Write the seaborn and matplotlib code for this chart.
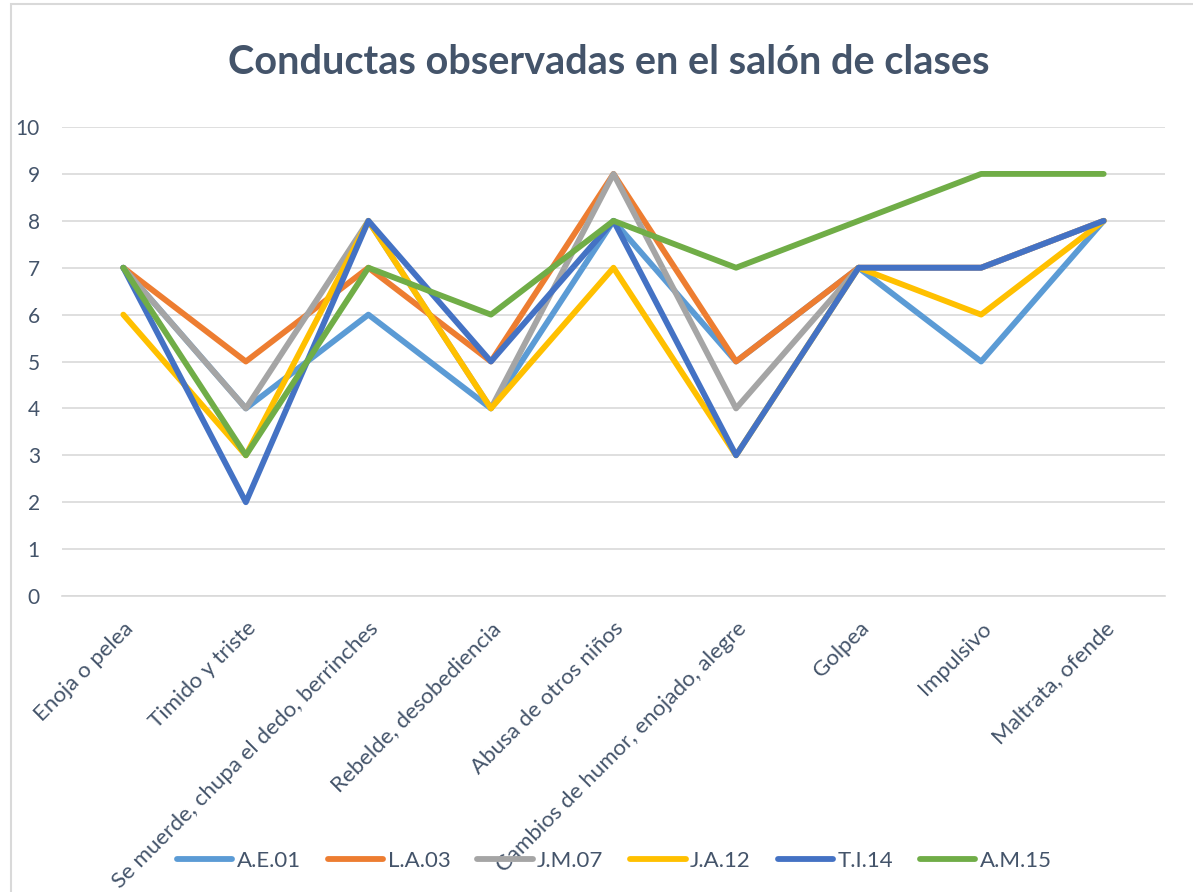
import numpy as np
import pandas as pd
import matplotlib.pyplot as plt
import seaborn as sns
from matplotlib.patches import Rectangle

categories = ["Enoja o pelea", "Timido y triste", "Se muerde, chupa el dedo, berrinches",
              "Rebelde, desobediencia", "Abusa de otros niños",
              "Cambios de humor, enojado, alegre", "Golpea", "Impulsivo", "Maltrata, ofende"]

ae01 = [7, 4, 6, 4, 8, 5, 7, 5, 8]
la03 = [7, 5, 7, 5, 9, 5, 7, 7, 8]
jm07 = [7, 4, 8, 4, 9, 4, 7, 7, 8]
ja12 = [6, 3, 8, 4, 7, 3, 7, 6, 8]
ti14 = [7, 2, 8, 5, 8, 3, 7, 7, 8]
am15 = [7, 3, 7, 6, 8, 7, 8, 9, 9]

series_names = ["A.E.01", "L.A.03", "J.M.07", "J.A.12", "T.I.14", "A.M.15"]
colors = ["#5B9BD5", "#ED7D31", "#A5A5A5", "#FFC000", "#4472C4", "#70AD47"]

rows = []
for name, vals in zip(series_names, [ae01, la03, jm07, ja12, ti14, am15]):
    for cat, v in zip(categories, vals):
        rows.append({"categoria": cat, "valor": v, "serie": name})
df = pd.DataFrame(rows)

sns.set_style("white")
plt.rcParams['font.family'] = ['Lato', 'DejaVu Sans']
text_color = "#44546A"

fig = plt.figure(figsize=(11.93, 8.92), dpi=100)
ax = fig.add_axes([0.052, 0.3318, 0.9245, 0.5258])

sns.lineplot(data=df, x="categoria", y="valor", hue="serie", palette=colors,
             hue_order=series_names, linewidth=4.2, sort=False, ax=ax, legend=True)

ax.set_ylim(0, 10)
ax.set_xlim(-0.5, len(categories) - 0.5)
ax.set_yticks(range(0, 11))
ax.set_xticks(range(len(categories)))
ax.set_xticklabels(categories, rotation=45, ha="right", rotation_mode="anchor",
                   fontsize=16, color=text_color)
ax.set_xticks(np.arange(-0.5, len(categories)), minor=True)
ax.tick_params(axis="x", which="major", length=0, pad=16)
ax.tick_params(axis="x", which="minor", length=6, color="#D9D9D9", width=1.2)
ax.tick_params(axis="y", length=0, pad=16, labelsize=15, labelcolor=text_color)
ax.yaxis.grid(True, color="#D9D9D9", linewidth=1.2)
ax.set_axisbelow(True)
for s in ["top", "right", "left"]:
    ax.spines[s].set_visible(False)
ax.spines["bottom"].set_color("#D9D9D9")
ax.spines["bottom"].set_linewidth(1.2)
ax.set_xlabel("")
ax.set_ylabel("")

fig.text(0.51, 0.930, "Conductas observadas en el salón de clases", ha="center", va="center",
         fontsize=28.5, fontweight="bold", color=text_color)

handles, labels = ax.get_legend_handles_labels()
ax.get_legend().remove()
fig.legend(handles, labels, loc="center", bbox_to_anchor=(0.515, 0.035), ncol=6,
           frameon=False, fontsize=16, handlelength=2.5, handletextpad=0.2,
           columnspacing=1.2, labelcolor=text_color)

fig.patches.append(Rectangle((0.009, -0.05), 1.2, 1.045, transform=fig.transFigure,
                             fill=False, edgecolor="#D9D9D9", linewidth=1.5))

fig.savefig("out.png", dpi=100)
